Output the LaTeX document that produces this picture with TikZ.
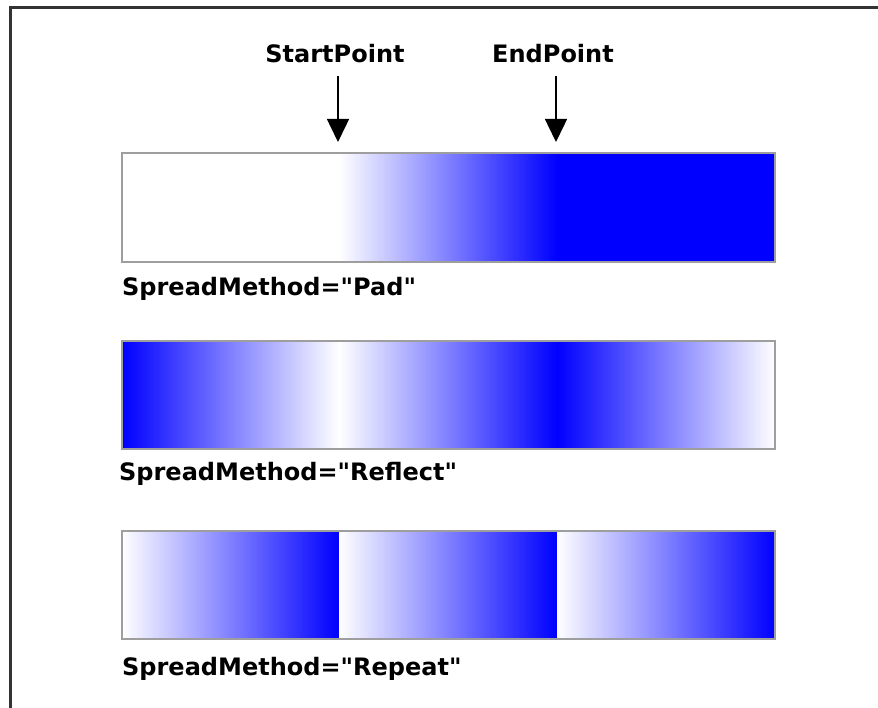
\documentclass[tikz,border=0pt]{standalone}
\usepackage{fontspec}
\setmainfont{DejaVu Sans}[Ligatures=TeXOff]
\usetikzlibrary{arrows.meta, positioning}

\begin{document}
\begin{tikzpicture}[
    x=1pt, y=-1pt,
    pointlabel/.style={font=\fontsize{24}{28}\selectfont\bfseries, inner sep=0pt, anchor=base},
    methodlabel/.style={font=\fontsize{24}{28}\selectfont\bfseries, inner sep=0pt, anchor=base west},
    barframe/.style={draw=black!38, line width=2pt},
    marker/.style={-{Triangle[length=23pt, width=22pt]}, line width=1.5pt, shorten <=13pt},
    frameline/.style={draw=black!80, line width=3pt}
]
    \useasboundingbox (0,0) rectangle (878,708);
    % window edge
    \draw[frameline] (10.5,708) -- (10.5,7.5) -- (878,7.5);

    \node[pointlabel] (start) at (335,62.5) {StartPoint};
    \node[pointlabel] (end) at (553,62.5) {EndPoint};
    \coordinate (startTip) at (338,142);
    \coordinate (endTip) at (556,142);
    \draw[marker] (start.south -| startTip) -- (startTip);
    \draw[marker] (end.south -| endTip) -- (endTip);

    % Pad
    \fill[white] (122,153) rectangle (339,262);
    \shade[left color=white, right color=blue] (339,153) rectangle (557,262);
    \fill[blue] (557,153) rectangle (775,262);
    \draw[barframe] (122,153) rectangle (775,262);
    \node[methodlabel] (pad) at (122,295.5) {SpreadMethod="Pad"};

    % Reflect
    \foreach \xa/\xb/\ca/\cb in {122/339/blue/white, 339/557/white/blue, 557/775/blue/white}
        \shade[left color=\ca, right color=\cb] (\xa,341) rectangle (\xb,449);
    \draw[barframe] (122,341) rectangle (775,449);
    \node[methodlabel] (reflect) at (119,480) {SpreadMethod="Reflect"};

    % Repeat
    \foreach \xa/\xb in {122/339, 339/557, 557/775}
        \shade[left color=white, right color=blue] (\xa,531) rectangle (\xb,639);
    \draw[barframe] (122,531) rectangle (775,639);
    \node[methodlabel] (repeat) at (122,675) {SpreadMethod="Repeat"};
\end{tikzpicture}
\end{document}
